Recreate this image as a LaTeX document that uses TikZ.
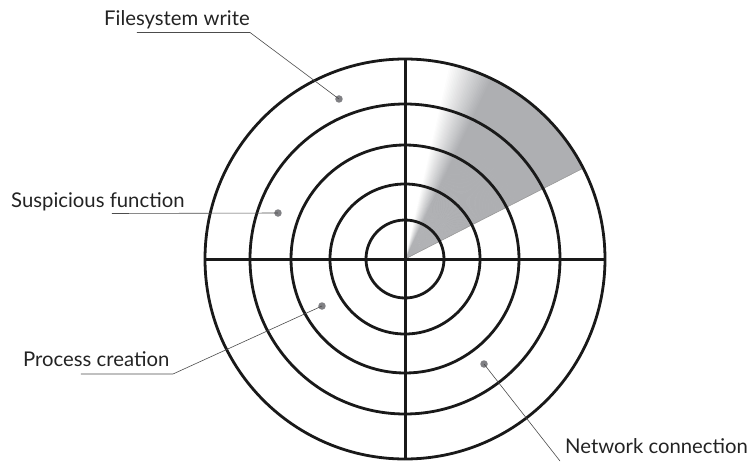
\documentclass[tikz,border=0pt]{standalone}
\usepackage{fontspec}
\setmainfont{Lato}
\definecolor{wedgegray}{RGB}{174,175,178}
\definecolor{dotgray}{RGB}{128,128,132}
\definecolor{textgray}{RGB}{35,35,35}
\begin{document}
\begin{tikzpicture}[x=1pt,y=1pt,
  ring/.style={line width=2.8pt, draw=black!90},
  axis/.style={line width=3pt, draw=black!90},
  leader/.style={line width=0.6pt, draw=black!70},
  dot/.style={circle, fill=dotgray, inner sep=0pt, minimum size=7.5pt},
  lbl/.style={font=\fontsize{20.3}{24}\selectfont, text=textgray, inner sep=0pt, anchor=base west}]
\useasboundingbox (-405,-202) rectangle (347,259);
% shaded wedge
\foreach \a in {27,27.5,...,89.5} {
  \pgfmathsetmacro\p{min(100,max(0,(77-\a)/13*100))}
  \fill[wedgegray!\p!white] (0,0) -- (\a:200) arc[start angle=\a, end angle=\a+0.8, radius=200] -- cycle;
}
\draw[line width=0.6pt, draw=black!40] (0,0) -- (27:200);
% rings
\foreach \r in {200,155,114,75,39} \draw[ring] (0,0) circle[radius=\r];
\draw[axis] (-201,0) -- (201,0);
\draw[axis] (0,-201) -- (0,201);
% dots
\node[dot] (fsdot) at (-66,160) {};
\node[dot] (sfdot) at (-127,46) {};
\node[dot] (pcdot) at (-83,-47) {};
\node[dot] (ncdot) at (79,-105) {};
% labels
\node[lbl] (fs) at (-301,233) {Filesystem write};
\node[lbl] (sf) at (-394,52) {Suspicious function};
\node[lbl] (pc) at (-382,-107) {Process creation};
\node[lbl] (nc) at (160,-194) {Network connection};
% leader lines
\coordinate (fsA) at (-155,226.5);
\coordinate (fsB) at (-268,226.5);
\coordinate (sfB) at (-293,45.5);
\coordinate (pcA) at (-232,-115);
\coordinate (pcB) at (-324,-115);
\coordinate (ncA) at (155,-202);
\draw[leader] (fsdot.center) -- (fsA) -- (fsB);
\draw[leader] (sfdot.center) -- (sfB);
\draw[leader] (pcdot.center) -- (pcA) -- (pcB);
\draw[leader] (ncdot.center) -- (ncA);
\end{tikzpicture}
\end{document}
